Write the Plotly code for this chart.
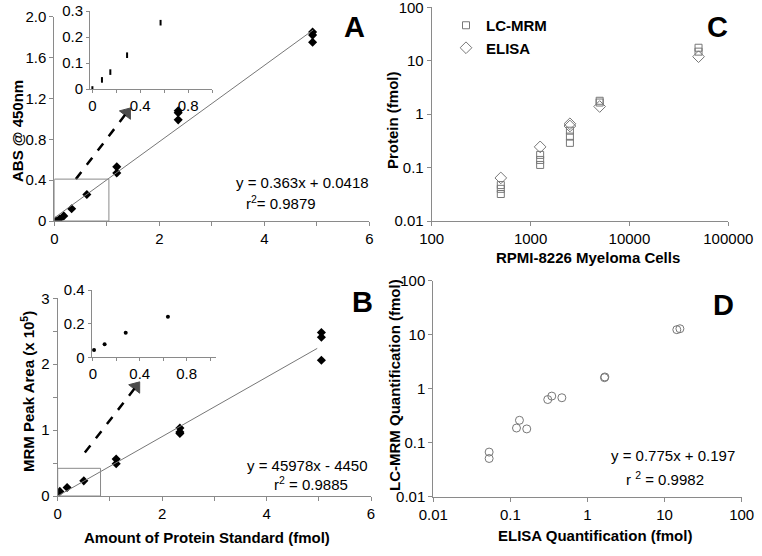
import plotly.graph_objects as go

W, H = 762, 556
FONT = "Liberation Sans, Arial, sans-serif"
AXCOL = "#8a8a8a"

# ---- panel A: ELISA standard curve (ABS @ 450nm)
a_x = [0.03, 0.10, 0.18, 0.33, 0.62, 1.19, 1.19, 2.36, 2.36, 2.36, 4.92, 4.92, 4.92]
a_y = [0.00, 0.02, 0.05, 0.12, 0.26, 0.53, 0.47, 1.08, 1.06, 0.99, 1.85, 1.82, 1.75]
a_fit_x = [0, 4.93]
a_fit_y = [0.03, 1.87]
# inset A
ai_x = [0.0, 0.08, 0.15, 0.29, 0.57]
ai_y = [0.0, 0.035, 0.065, 0.13, 0.255]

# ---- panel B: MRM standard curve (peak area x 10^5)
b_x = [-0.01, 0.04, 0.18, 0.50, 1.12, 1.12, 2.34, 2.34, 2.34, 5.05, 5.05, 5.05]
b_y = [0.05, 0.07, 0.13, 0.23, 0.56, 0.49, 1.03, 0.97, 0.95, 2.48, 2.41, 2.06]
b_fit_x = [0, 4.97]
b_fit_y = [0.0, 2.24]
# inset B
bi_x = [0.01, 0.10, 0.28, 0.64]
bi_y = [0.043, 0.077, 0.146, 0.241]

# ---- panel C: protein vs number of cells
c_mrm_x = [500, 500, 500, 1250, 1250, 1250, 2500, 2500, 2500, 5000, 5000, 50000, 50000]
c_mrm_y = [0.047, 0.040, 0.032, 0.173, 0.139, 0.112, 0.49, 0.38, 0.29, 1.78, 1.65, 17.5, 14.8]
c_elisa_x = [500, 1250, 2500, 2500, 5000, 50000]
c_elisa_y = [0.064, 0.244, 0.66, 0.60, 1.39, 11.9]

# ---- panel D: LC-MRM vs ELISA
d_elisa = [0.053, 0.053, 0.12, 0.131, 0.163, 0.305, 0.344, 0.465, 1.66, 1.68, 14.4, 15.8]
d_mrm = [0.067, 0.051, 0.187, 0.26, 0.18, 0.63, 0.73, 0.68, 1.6, 1.65, 12.4, 12.9]

c_xticks = [100, 1000, 10000, 100000]
c_yticks = [0.01, 0.1, 1, 10, 100]
d_ticks = [0.01, 0.1, 1, 10, 100]
log_labels = ["0.01", "0.1", "1", "10", "100"]


def px_x(a, b):
    return [a / W, b / W]


def px_y(bottom, top):
    return [1 - bottom / H, 1 - top / H]


fig = go.Figure()

blk = dict(symbol="diamond", size=7, color="black")
arrow_head = dict(symbol="triangle-up", size=[0, 12], color="black", angleref="previous",
                  line=dict(width=1, color="black"))
# A
fig.add_trace(go.Scatter(x=a_x, y=a_y, mode="markers", marker=blk, xaxis="x", yaxis="y", showlegend=False))
fig.add_trace(go.Scatter(x=a_fit_x, y=a_fit_y, mode="lines", line=dict(color="#777", width=1),
                         xaxis="x", yaxis="y", showlegend=False))
fig.add_trace(go.Scatter(x=[0.41, 1.38], y=[0.41, 1.06], mode="lines+markers",
                         line=dict(color="black", width=2.5, dash="dash"), marker=arrow_head,
                         xaxis="x", yaxis="y", showlegend=False))
fig.add_trace(go.Scatter(x=ai_x, y=ai_y, mode="markers", marker=dict(symbol="line-ns", size=4,
                         line=dict(width=2, color="black")), xaxis="x2", yaxis="y2", showlegend=False))
# B
fig.add_trace(go.Scatter(x=b_x, y=b_y, mode="markers", marker=blk, xaxis="x3", yaxis="y3", showlegend=False))
fig.add_trace(go.Scatter(x=b_fit_x, y=b_fit_y, mode="lines", line=dict(color="#777", width=1),
                         xaxis="x3", yaxis="y3", showlegend=False))
fig.add_trace(go.Scatter(x=[0.52, 1.50], y=[0.66, 1.66], mode="lines+markers",
                         line=dict(color="black", width=2.5, dash="dash"), marker=arrow_head,
                         xaxis="x3", yaxis="y3", showlegend=False))
fig.add_trace(go.Scatter(x=bi_x, y=bi_y, mode="markers", marker=dict(symbol="circle", size=4, color="black"),
                         xaxis="x4", yaxis="y4", showlegend=False))
# C
fig.add_trace(go.Scatter(x=c_mrm_x, y=c_mrm_y, mode="markers", name="<b>LC-MRM</b>",
                         marker=dict(symbol="square-open", size=7, color="#777", line=dict(width=1)),
                         xaxis="x5", yaxis="y5"))
fig.add_trace(go.Scatter(x=c_elisa_x, y=c_elisa_y, mode="markers", name="<b>ELISA</b>",
                         marker=dict(symbol="diamond-open", size=9, color="#777", line=dict(width=1)),
                         xaxis="x5", yaxis="y5"))
# D
fig.add_trace(go.Scatter(x=d_elisa, y=d_mrm, mode="markers",
                         marker=dict(symbol="circle-open", size=8, color="#777", line=dict(width=1)),
                         xaxis="x6", yaxis="y6", showlegend=False))

base = dict(showline=True, linecolor=AXCOL, linewidth=1, showgrid=False, zeroline=False,
            automargin=False, ticklabeloverflow="allow",
            ticks="outside", ticklen=4, tickcolor=AXCOL, tickfont=dict(size=15, color="black", family=FONT))
minor = dict(ticks="outside", ticklen=4, tickcolor=AXCOL)

fig.update_layout(
    xaxis=dict(base, domain=px_x(54.3, 369.3), range=[0, 6], tickvals=[0, 2, 4, 6],
               minor=dict(minor, dtick=1), anchor="y"),
    yaxis=dict(base, domain=px_y(221, 16.7), range=[0, 2.0], tickvals=[0, 0.4, 0.8, 1.2, 1.6, 2.0],
               ticktext=["0", "0.4", "0.8", "1.2", "1.6", "2.0"], anchor="x"),
    xaxis2=dict(base, domain=px_x(90, 212), range=[-0.02, 1.0], tickvals=[0, 0.4, 0.8],
                minor=dict(minor, dtick=0.2, ticklen=3), ticklen=3, anchor="y2"),
    yaxis2=dict(base, domain=px_y(89, 11), range=[0, 0.3], tickvals=[0, 0.1, 0.2, 0.3],
                ticklen=3, anchor="x2"),
    xaxis3=dict(base, domain=px_x(57.7, 371), range=[0, 6], tickvals=[0, 2, 4, 6],
                minor=dict(minor, dtick=1), anchor="y3"),
    yaxis3=dict(base, domain=px_y(496, 298.3), range=[0, 3], tickvals=[0, 1, 2, 3],
                minor=dict(minor, dtick=0.5), anchor="x3"),
    xaxis4=dict(base, domain=px_x(91.7, 216), range=[-0.01, 1.05], tickvals=[0, 0.4, 0.8],
                minor=dict(minor, dtick=0.2, ticklen=3), ticklen=3, anchor="y4"),
    yaxis4=dict(base, domain=px_y(357.3, 290), range=[0, 0.4], tickvals=[0, 0.2, 0.4],
                ticklen=3, anchor="x4"),
    xaxis5=dict(base, type="log", domain=px_x(431.7, 728.3), range=[2, 5],
                tickvals=c_xticks, ticktext=[str(v) for v in c_xticks], anchor="y5"),
    yaxis5=dict(base, type="log", domain=px_y(221, 7.3), range=[-2, 2],
                tickvals=c_yticks, ticktext=log_labels, anchor="x5"),
    xaxis6=dict(base, type="log", domain=px_x(433.3, 741.7), range=[-2, 2],
                tickvals=d_ticks, ticktext=log_labels, anchor="y6"),
    yaxis6=dict(base, type="log", domain=px_y(496.7, 280.7), range=[-2, 2],
                tickvals=d_ticks, ticktext=log_labels, anchor="x6"),
    width=W, height=H, margin=dict(l=0, r=0, t=0, b=0),
    paper_bgcolor="white", plot_bgcolor="rgba(0,0,0,0)",
    font=dict(family=FONT, color="black"),
    legend=dict(x=446 / W, y=1 - 9 / H, xanchor="left", yanchor="top", bgcolor="rgba(0,0,0,0)",
                font=dict(size=15, family=FONT), tracegroupgap=0, itemwidth=30),
)

# zoom boxes on the main standard curves
fig.add_shape(type="rect", x0=0, x1=1.04, y0=0, y1=0.41, xref="x", yref="y",
              line=dict(color=AXCOL, width=1))
fig.add_shape(type="rect", x0=0, x1=0.82, y0=0, y1=0.42, xref="x3", yref="y3",
              line=dict(color=AXCOL, width=1))


def note(text, x, y, size=15, bold=False, angle=0):
    if bold:
        text = "<b>" + text + "</b>"
    fig.add_annotation(text=text, x=x / W, y=1 - y / H, xref="paper", yref="paper",
                       showarrow=False, xanchor="center", yanchor="middle", textangle=angle,
                       font=dict(size=size, family=FONT, color="black"))


# panel letters
note("A", 354, 27, size=29, bold=True)
note("B", 362, 302, size=29, bold=True)
note("C", 717, 27, size=29, bold=True)
note("D", 723, 305, size=29, bold=True)

# fit equations
note("y = 0.363x + 0.0418", 302, 183)
note("r<sup>2</sup>= 0.9879", 281, 203)
note("y = 45978x - 4450", 307, 465)
note("r<sup>2</sup> = 0.9885", 311, 483)
note("y = 0.775x + 0.197", 673, 455)
note("r <sup>2</sup> = 0.9982", 665, 478)

# axis titles
note("ABS @ 450nm", 17, 131, bold=True, angle=-90)
note("MRM Peak Area (x 10<sup>5</sup>)", 28, 392, bold=True, angle=-90)
note("Amount of Protein Standard (fmol)", 207, 537, bold=True)
note("Protein (fmol)", 392, 120, bold=True, angle=-90)
note("RPMI-8226 Myeloma Cells", 588, 257, bold=True)
note("LC-MRM Quantification (fmol)", 394, 385, bold=True, angle=-90)
note("ELISA Quantification (fmol)", 595, 535, bold=True)

# the page body has an 8px default margin; drop it so the figure sits at the window corner
fig.write_html("out.html", config={"displayModeBar": False},
               post_script="document.body.style.margin='0';")
